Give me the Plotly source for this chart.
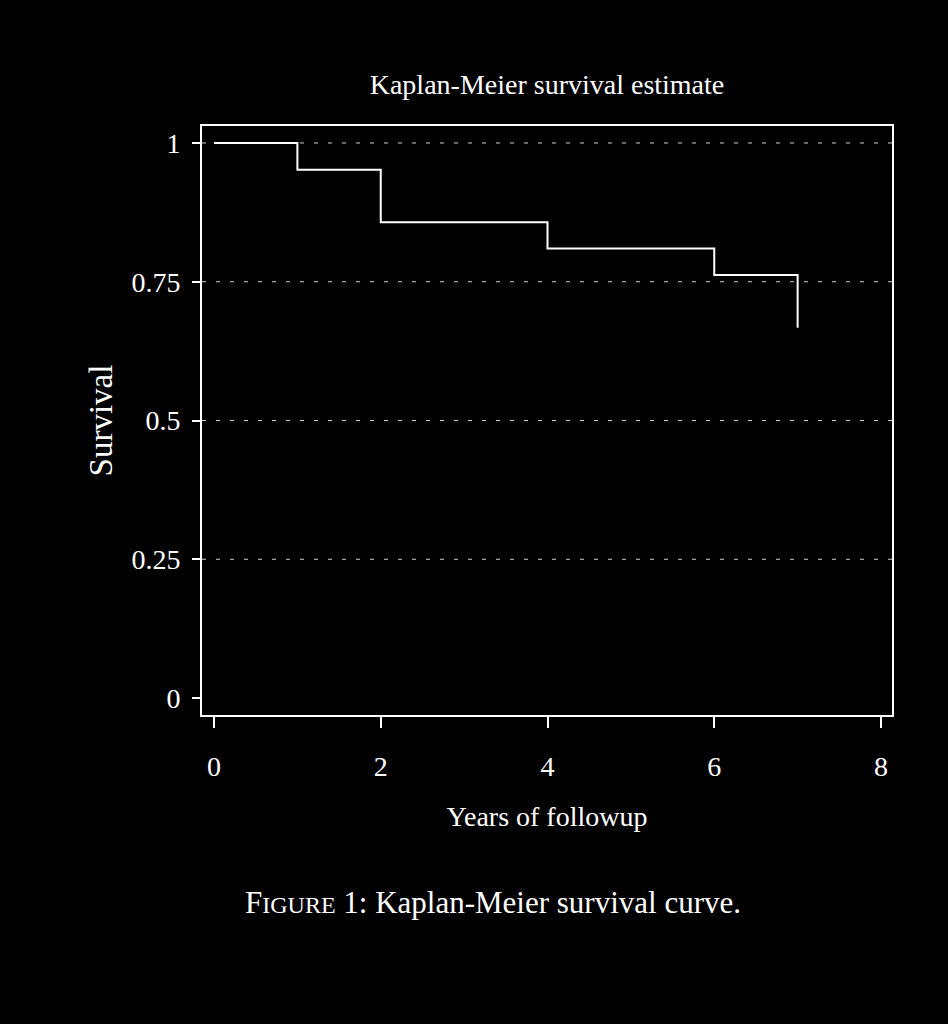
#!/usr/bin/env python3
"""Kaplan-Meier survival estimate - white on black, Stata-like look."""
import plotly.graph_objects as go

# follow-up time (years) and estimated survival at each step
years = [0, 1, 2, 4, 6, 7]
survival = [1.0, 0.952, 0.857, 0.810, 0.762, 0.667]

x_ticks = [0, 2, 4, 6, 8]
y_ticks = [0, 0.25, 0.5, 0.75, 1]
y_tick_text = ["0", "0.25", "0.5", "0.75", "1"]
grid_levels = [0.25, 0.5, 0.75, 1]

FONT = "Liberation Serif"
WHITE = "#ffffff"

fig = go.Figure()
fig.add_trace(go.Scatter(
    x=years, y=survival,
    mode="lines",
    line=dict(color=WHITE, width=2, shape="hv"),
    hoverinfo="skip",
    showlegend=False,
))

# dotted reference lines (none at zero, as in the original)
for g in grid_levels:
    fig.add_shape(type="line", xref="paper", yref="y", x0=0, x1=1, y0=g, y1=g,
                  line=dict(color="#cfcfcf", width=1, dash="4px,10px"), layer="below")

fig.update_layout(
    width=948, height=1024,
    paper_bgcolor="black", plot_bgcolor="black",
    font=dict(family=FONT, color=WHITE, size=28),
    margin=dict(l=202, r=56, t=126, b=309),
    title=dict(text="Kaplan-Meier survival estimate", x=0.577, xanchor="center",
               y=0.918, yanchor="middle", font=dict(size=28)),
    xaxis=dict(
        range=[-0.144, 8.132], tickvals=x_ticks, showgrid=False, zeroline=False,
        showline=True, linecolor=WHITE, linewidth=2, mirror=True,
        ticks="outside", ticklen=11, tickwidth=1.5, tickcolor=WHITE,
        ticklabelstandoff=14,
        title=dict(text="Years of followup", standoff=26, font=dict(size=28)),
    ),
    yaxis=dict(
        range=[-0.0306, 1.0306], tickvals=y_ticks, ticktext=y_tick_text,
        showgrid=False, zeroline=False,
        showline=True, linecolor=WHITE, linewidth=2, mirror=True,
        ticks="outside", ticklen=8, tickwidth=1.5, tickcolor=WHITE,
        ticklabelstandoff=6,
        title=dict(text="Survival", standoff=9, font=dict(size=33)),
    ),
    annotations=[dict(
        text="F<span style='font-size:24px'>IGURE</span> 1: Kaplan-Meier survival curve.",
        xref="paper", yref="paper", x=0.422, y=-0.318, xanchor="center", yanchor="middle",
        showarrow=False, font=dict(size=31, color=WHITE, family=FONT),
    )],
)

fig.write_html("out.html",
               config={"displayModeBar": False},
               post_script="document.body.style.margin='0';"
                           "document.body.style.background='black';")
